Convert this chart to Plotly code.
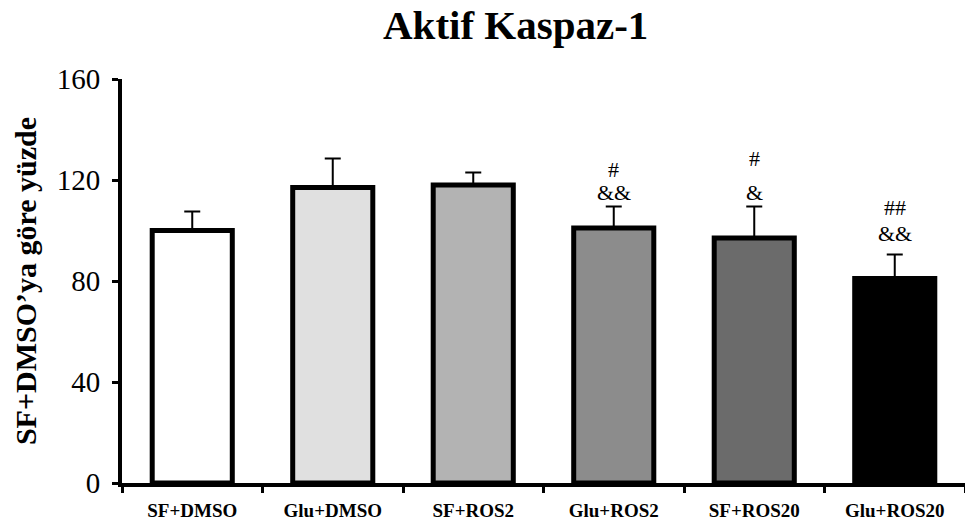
import plotly.graph_objects as go

# Group labels, mean values (% of SF+DMSO) and SEM
groups = ["SF+DMSO", "Glu+DMSO", "SF+ROS2", "Glu+ROS2", "SF+ROS20", "Glu+ROS20"]
means = [100, 117, 118, 101, 97, 81]
sem = [7.5, 11.5, 5, 8.5, 12.5, 9.5]
fills = ["#ffffff", "#e0e0e0", "#b3b3b3", "#8c8c8c", "#6b6b6b", "#000000"]

# Significance marks: (group, text, height in axis units)
marks = [
    ("Glu+ROS2", "#", 124),
    ("Glu+ROS2", "&&", 115),
    ("SF+ROS20", "#", 128.7),
    ("SF+ROS20", "&", 115.2),
    ("Glu+ROS20", "##", 109.3),
    ("Glu+ROS20", "&&", 99),
]

y_ticks = [0, 40, 80, 120, 160]

serif = "Liberation Serif"

fig = go.Figure()
fig.add_trace(go.Bar(
    x=groups,
    y=means,
    width=0.57,
    marker=dict(color=fills, line=dict(color="#000000", width=5)),
    error_y=dict(
        type="data",
        array=sem,
        arrayminus=[0] * len(sem),
        symmetric=False,
        color="#000000",
        thickness=2,
        width=8,
    ),
    showlegend=False,
))

for g, txt, yv in marks:
    fig.add_annotation(
        x=g, y=yv, text=txt, showarrow=False,
        font=dict(family=serif, size=22, color="#000000"),
        xanchor="center", yanchor="middle",
    )

fig.update_layout(
    width=965,
    height=530,
    margin=dict(l=122, r=0, t=79, b=47),
    paper_bgcolor="#ffffff",
    plot_bgcolor="#ffffff",
    bargap=0.43,
    font=dict(family=serif, color="#000000"),
    title=dict(
        text="<b>Aktif Kaspaz-1</b>",
        font=dict(family=serif, size=41, color="#000000"),
        xref="paper", x=0.467, xanchor="center",
        yref="container", y=0.953, yanchor="middle",
    ),
    xaxis=dict(
        showline=True, linecolor="#000000", linewidth=4,
        ticks="outside", ticklen=6, tickwidth=3, tickcolor="#000000",
        tickmode="array", tickvals=[i - 0.5 for i in range(len(groups) + 1)],
        ticktext=[""] * (len(groups) + 1),
        range=[-0.5, len(groups) - 0.5],
        showgrid=False, zeroline=False, fixedrange=True,
    ),
    xaxis2=dict(
        overlaying="x", anchor="y", side="bottom",
        range=[-0.5, len(groups) - 0.5],
        tickmode="array", tickvals=list(range(len(groups))), ticktext=groups,
        ticks="", showline=False, showgrid=False, zeroline=False,
        tickfont=dict(family=serif, size=19, color="#000000", weight="bold"),
        ticklabelstandoff=14,
    ),
    yaxis=dict(
        range=[0, 160],
        tickmode="array", tickvals=y_ticks,
        showline=True, linecolor="#000000", linewidth=4,
        ticks="outside", ticklen=6, tickwidth=3, tickcolor="#000000",
        tickfont=dict(family=serif, size=29, color="#000000"),
        ticklabelstandoff=6,
        showgrid=False, zeroline=False,
        title=dict(
            text="<b>SF+DMSO\u2019ya göre yüzde</b>",
            font=dict(family=serif, size=30, color="#000000"),
            standoff=12,
        ),
    ),
)

# Invisible helper trace so the second x axis (group labels) is drawn
fig.add_trace(go.Scatter(x=[0], y=[0], xaxis="x2", mode="markers",
                         marker=dict(opacity=0), showlegend=False, hoverinfo="skip"))

fig.write_html("out.html")
